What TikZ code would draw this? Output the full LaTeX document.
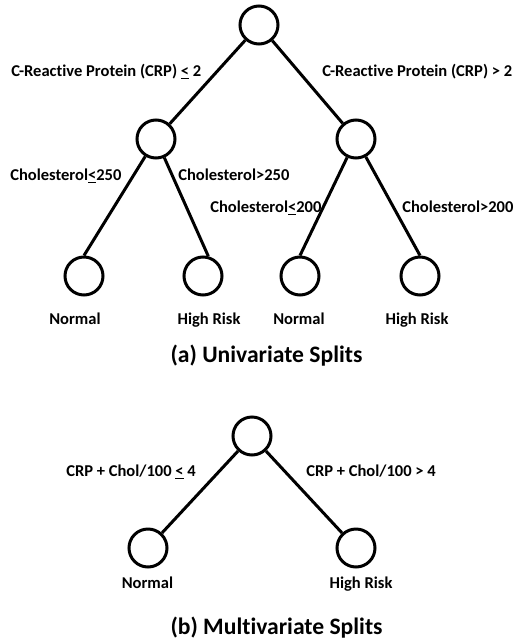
\documentclass[tikz,border=0pt]{standalone}
\usepackage{fontspec}
\setmainfont{Carlito}[Ligatures=NoCommon]
\usetikzlibrary{arrows}
\tikzstyle{split} = [circle, minimum size=28.5pt, inner sep=0pt, draw=black, line width=2.25pt]
\tikzstyle{edge} = [line width=2.25pt, draw=black]
\tikzstyle{cond} = [inner sep=0pt, font=\fontsize{12.4}{14}\selectfont\bfseries]
\tikzstyle{caption} = [inner sep=0pt, font=\fontsize{17.7}{20}\selectfont\bfseries]

\begin{document}
\begin{tikzpicture}[x=0.75pt, y=-0.75pt]

    \useasboundingbox (0,0) rectangle (514,643);

    % (a) univariate tree
    \node (root) [split] at (259,25) {};
    \node (crpLow) [split] at (156,139) {};
    \node (crpHigh) [split] at (356,139) {};
    \node (normA) [split] at (84,276) {};
    \node (riskA) [split] at (203,276) {};
    \node (normB) [split] at (300,276) {};
    \node (riskB) [split] at (420,276) {};

    \draw [edge] (root) -- (crpLow);
    \draw [edge] (root) -- (crpHigh);
    \draw [edge] (crpLow) -- (normA.north);
    \draw [edge] (crpLow) -- (riskA.75);
    \draw [edge] (crpHigh) -- (normB.north);
    \draw [edge] (crpHigh) -- (riskB.north);

    \node (crpLe) [cond, anchor=base west] at (11,76) {C-Reactive Protein (CRP) \underline{<} 2};
    \node (crpGt) [cond, anchor=base west] at (322,76) {C-Reactive Protein (CRP) > 2};
    \node (cholLeA) [cond, anchor=base west] at (10,180) {Cholesterol\underline{<}250};
    \node (cholGtA) [cond, anchor=base west] at (178,180) {Cholesterol>250};
    \node (cholLeB) [cond, anchor=base west] at (210,212) {Cholesterol\underline{<}200};
    \node (cholGtB) [cond, anchor=base west] at (402,212) {Cholesterol>200};

    \node (tNormA) [cond, anchor=base] at (75,324) {Normal};
    \node (tRiskA) [cond, anchor=base] at (209,324) {High Risk};
    \node (tNormB) [cond, anchor=base] at (299,324) {Normal};
    \node (tRiskB) [cond, anchor=base] at (417,324) {High Risk};

    \node (capA) [caption, anchor=base] at (266.5,362) {(a) Univariate Splits};

    % (b) multivariate tree
    \node (mroot) [split] at (252,436) {};
    \node (mnorm) [split] at (148,548) {};
    \node (mrisk) [split] at (356,548) {};

    \draw [edge] (mroot) -- (mnorm);
    \draw [edge] (mroot) -- (mrisk);

    \node (mixLe) [cond, anchor=base west] at (66,476) {CRP + Chol/100 \underline{<} 4};
    \node (mixGt) [cond, anchor=base west] at (306,476) {CRP + Chol/100 > 4};

    \node (tmNorm) [cond, anchor=base] at (147.5,588) {Normal};
    \node (tmRisk) [cond, anchor=base] at (361,588) {High Risk};

    \node (capB) [caption, anchor=base] at (276.5,634) {(b) Multivariate Splits};

\end{tikzpicture}
\end{document}
